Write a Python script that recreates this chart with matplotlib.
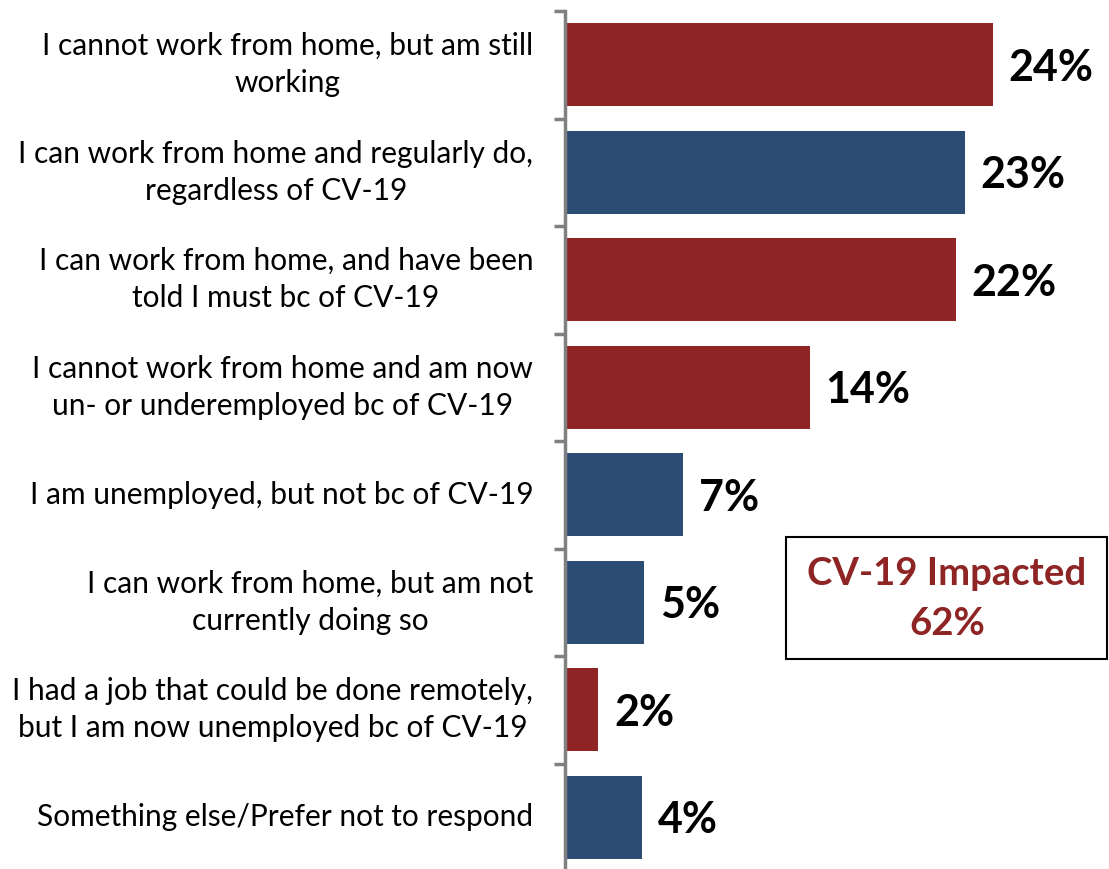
import matplotlib.pyplot as plt
from matplotlib.patches import Rectangle

plt.rcParams['font.family'] = ['Lato', 'DejaVu Sans']

categories = [
    'I cannot work from home, but am still\nworking',
    'I can work from home and regularly do,\nregardless of CV-19',
    'I can work from home, and have been\ntold I must bc of CV-19',
    'I cannot work from home and am now\nun- or underemployed bc of CV-19',
    'I am unemployed, but not bc of CV-19',
    'I can work from home, but am not\ncurrently doing so',
    'I had a job that could be done remotely,\nbut I am now unemployed bc of CV-19',
    'Something else/Prefer not to respond',
]
values = [24.3, 22.7, 22.2, 13.9, 6.7, 4.5, 1.9, 4.4]
value_labels = ['24%', '23%', '22%', '14%', '7%', '5%', '2%', '4%']
impacted = [True, False, True, True, False, False, True, False]

RED = '#8E2424'
BLUE = '#2B4C73'

fig = plt.figure(figsize=(11.09, 8.69), dpi=100, facecolor='white')
ax = fig.add_axes([565 / 1109, -2 / 869, 544 / 1109, 860 / 869])

y = list(range(len(categories)))
colors = [RED if f else BLUE for f in impacted]
ax.barh(y, values, height=0.77, color=colors, edgecolor='none')

ax.set_xlim(0, 544 / 17.6)
ax.set_ylim(len(categories) - 0.5, -0.5)

for yi, v, lab in zip(y, values, value_labels):
    ax.text(v + 0.9, yi + 0.03, lab, ha='left', va='center', fontsize=31,
            fontweight='bold', color='black')

for yi, cat in zip(y, categories):
    ax.text(-1.8, yi, cat, ha='right', va='center', fontsize=21.5,
            color='black', multialignment='center', linespacing=1.4)

# axis styling
for s in ['top', 'right', 'bottom']:
    ax.spines[s].set_visible(False)
ax.spines['left'].set_color('#808080')
ax.spines['left'].set_linewidth(2.5)
ax.set_xticks([])
ax.set_yticks([i - 0.5 for i in range(len(categories) + 1)])
ax.set_yticklabels([])
ax.tick_params(axis='y', length=8, width=2.5, color='#808080')

# callout box
fig.patches.append(Rectangle((786 / 1109, 1 - 659 / 869), 321 / 1109, 122 / 869,
                             transform=fig.transFigure, facecolor='white',
                             edgecolor='black', linewidth=1.5))
fig.text(947 / 1109, 1 - 599 / 869, 'CV-19 Impacted\n62%', ha='center', va='center',
         fontsize=27.5, fontweight='bold', color=RED, linespacing=1.55)

fig.savefig('out.png', dpi=100, facecolor='white')
